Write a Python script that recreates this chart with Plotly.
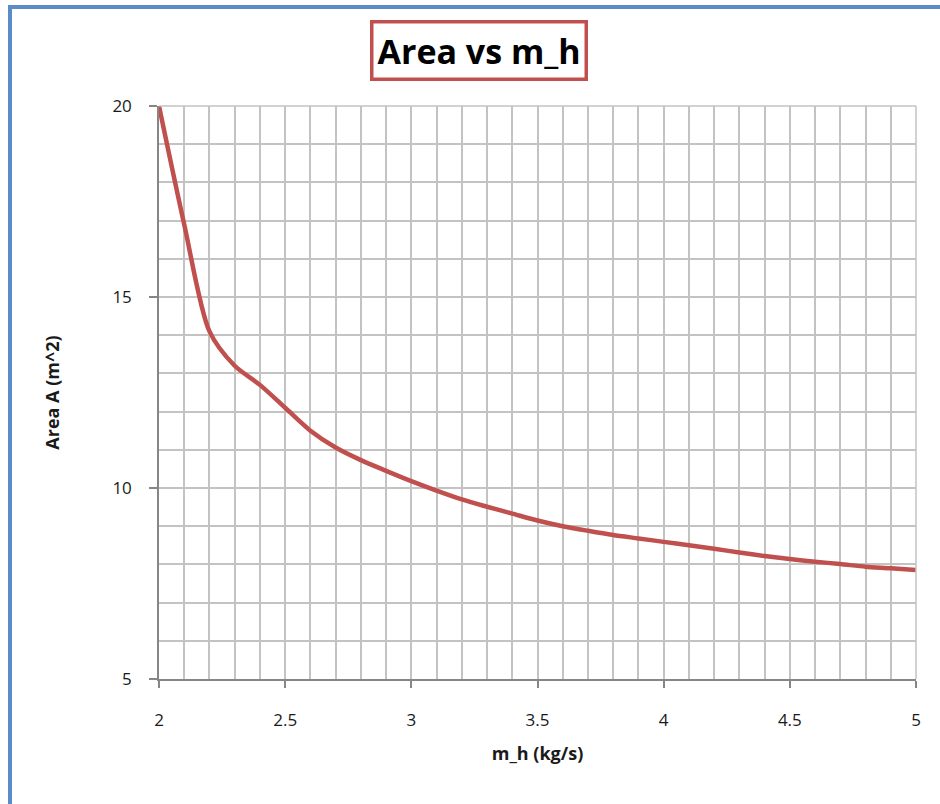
import plotly.graph_objects as go

# Heat-exchanger area required versus hot-side mass flow rate
m_h = [2.0, 2.1, 2.2, 2.3, 2.4, 2.5, 2.6, 2.7, 2.8, 2.9, 3.0,
       3.1, 3.2, 3.3, 3.4, 3.5, 3.6, 3.7, 3.8, 3.9, 4.0,
       4.1, 4.2, 4.3, 4.4, 4.5, 4.6, 4.7, 4.8, 4.9, 5.0]
area = [20.0, 16.9, 14.1, 13.2, 12.7, 12.1, 11.5, 11.06, 10.73, 10.45, 10.18,
        9.93, 9.70, 9.51, 9.33, 9.15, 9.0, 8.88, 8.77, 8.68, 8.59,
        8.50, 8.41, 8.31, 8.22, 8.14, 8.07, 8.01, 7.94, 7.90, 7.85]

x_ticks = [2, 2.5, 3, 3.5, 4, 4.5, 5]
x_labels = ["2", "2.5", "3", "3.5", "4", "4.5", "5"]
y_ticks = [5, 10, 15, 20]
y_labels = ["5", "10", "15", "20"]

W, H = 940, 804
L, R, T, B = 159, 24, 106, 125
pw, ph = W - L - R, H - T - B


def px(xp):
    return (xp - L) / pw


def py(yp):
    return (H - B - yp) / ph


grid = "#C3C3C3"
axis_col = "#868686"
font = "Open Sans, Lato, sans-serif"
text_col = "#1A1A1A"

fig = go.Figure()
fig.add_trace(go.Scatter(
    x=m_h, y=area, mode="lines",
    line=dict(color="#C0504D", width=4.5, shape="spline", smoothing=0.8),
    showlegend=False, hoverinfo="x+y",
))

fig.update_layout(
    width=W, height=H,
    margin=dict(l=L, r=R, t=T, b=B),
    paper_bgcolor="white", plot_bgcolor="white",
    font=dict(family=font, color=text_col),
    xaxis=dict(
        range=[2, 5], tickvals=x_ticks, ticktext=x_labels,
        showgrid=True, gridcolor=grid, gridwidth=1.5,
        minor=dict(dtick=0.1, tick0=2, showgrid=True, gridcolor=grid, gridwidth=1.5),
        showline=True, linecolor=axis_col, linewidth=1.5,
        ticks="outside", ticklen=7, tickcolor=axis_col, tickwidth=1.5,
        ticklabelstandoff=18,
        tickfont=dict(size=17, family=font, color=text_col),
        zeroline=False,
        title=dict(text="<b>m_h (kg/s)</b>", standoff=17,
                   font=dict(size=18, family=font, color=text_col)),
    ),
    yaxis=dict(
        range=[5, 20], tickvals=y_ticks, ticktext=y_labels,
        showgrid=True, gridcolor=grid, gridwidth=1.5,
        minor=dict(dtick=1, tick0=5, showgrid=True, gridcolor=grid, gridwidth=1.5),
        showline=True, linecolor=axis_col, linewidth=1.5,
        ticks="outside", ticklen=8, tickcolor=axis_col, tickwidth=1.5,
        ticklabelstandoff=14,
        tickfont=dict(size=17, family=font, color=text_col),
        zeroline=False,
        title=dict(text="<b>Area A (m^2)</b>", standoff=48,
                   font=dict(size=18, family=font, color=text_col)),
    ),
)

# right-hand and top edges of the plotting area
fig.add_shape(type="line", xref="paper", yref="paper", x0=1, x1=1, y0=0, y1=1,
              line=dict(color=grid, width=1.5))
fig.add_shape(type="line", xref="paper", yref="paper", x0=0, x1=1, y0=1, y1=1,
              line=dict(color=grid, width=1.5))

# chart frame (left and top edges)
fig.add_shape(type="path", xref="paper", yref="paper",
              path=f"M {px(10)} {py(H + 5)} L {px(10)} {py(7)} L {px(W + 5)} {py(7)}",
              line=dict(color="#5B8CC8", width=4))

# boxed title
fig.add_annotation(
    text="<b>Area vs m_h</b>", xref="paper", yref="paper",
    x=px(479), y=py(50), xanchor="center", yanchor="middle",
    showarrow=False, font=dict(size=34, family=font, color="black"),
    bgcolor="white", bordercolor="#C0504D", borderwidth=3.5, borderpad=4,
)

fig.write_html("out.html")
